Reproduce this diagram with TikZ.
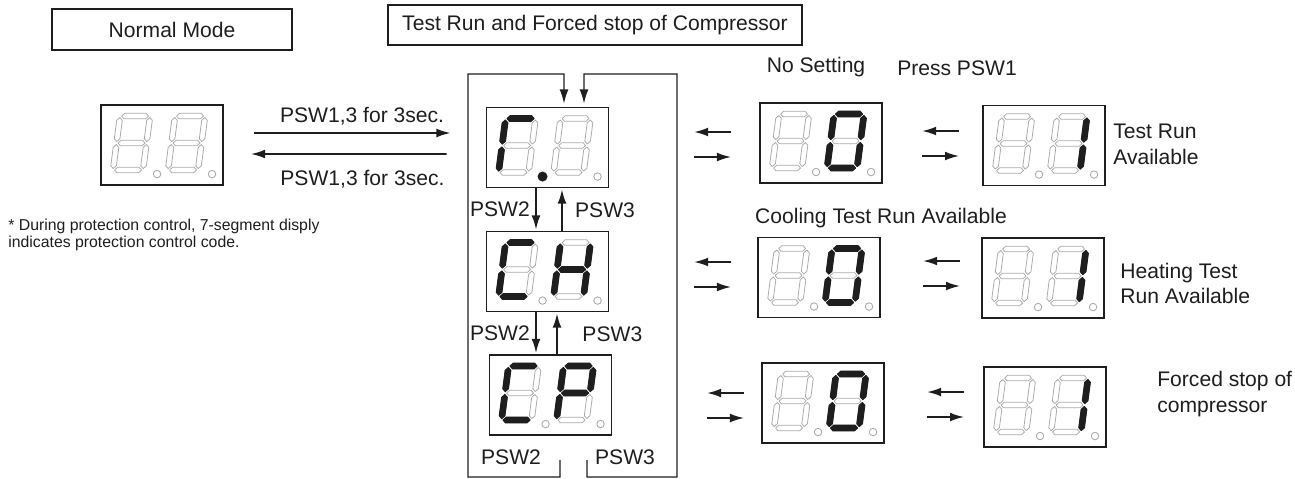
\documentclass[tikz,border=0pt]{standalone}
\usepackage{fontspec}
\setmainfont{Liberation Sans}
\usepackage{tikz}
\usetikzlibrary{arrows.meta,positioning,calc}
\definecolor{ink}{HTML}{1E1E1E}
\definecolor{segdim}{HTML}{ABABAB}
\tikzset{
  modebox/.style={draw=ink,line width=0.8pt,inner sep=0pt,font=\fontsize{12}{14}\selectfont,text=ink},
  dispbox/.style={draw=ink,line width=1.1pt,minimum width=2.44cm,minimum height=1.6cm,inner sep=0pt},
  segoff/.style={draw=segdim,line width=0.45pt,fill=white,line join=round},
  segon/.style={draw=ink,fill=ink,line width=0.6pt,line join=round},
  dpoff/.style={draw=segdim,line width=0.5pt,radius=0.075cm},
  dpon/.style={fill=ink,radius=0.1cm},
  swarrow/.style={-{Latex[length=8pt,width=5pt]},line width=1pt,draw=ink},
  looparrow/.style={-{Latex[length=8pt,width=5pt]},line width=0.75pt,draw=ink},
  lbl/.style={font=\fontsize{12}{14.5}\selectfont,text=ink,inner sep=0pt}
}
% pointed segments, horizontal and vertical
\newcommand\hseg[3]{(#1,#3) -- (#1+2.8,#3-2.8) -- (#2-2.8,#3-2.8) -- (#2,#3) -- (#2-2.8,#3+2.8) -- (#1+2.8,#3+2.8) -- cycle}
\newcommand\vseg[3]{(#1,#2) -- (#1+2.8,#2+2.8) -- (#1+2.8,#3-2.8) -- (#1,#3) -- (#1-2.8,#3-2.8) -- (#1-2.8,#2+2.8) -- cycle}
% one digit: segments a..g, origin at lower left, y down
\newcommand\dsega{\hseg{1.5}{28.5}{-54}}
\newcommand\dsegb{\vseg{30}{-52.5}{-28.5}}
\newcommand\dsegc{\vseg{30}{-25.5}{-1.5}}
\newcommand\dsegd{\hseg{1.5}{28.5}{0}}
\newcommand\dsege{\vseg{0}{-25.5}{-1.5}}
\newcommand\dsegf{\vseg{0}{-52.5}{-28.5}}
\newcommand\dsegg{\hseg{1.5}{28.5}{-27}}
\newcommand\dseg{}
\newcommand\segdigit[3]{%
  \begin{scope}[shift={(#1,#2)},xslant=0.13]
    \foreach \s in {a,b,c,d,e,f,g} \draw[segoff] \csname dseg\s\endcsname;
    \foreach \s in {#3} \draw[segon] \csname dseg\s\endcsname;
  \end{scope}}
% display box with two digits and two points
\newcommand\segdisplay[6]{%
  \node[dispbox] (#1) at (#2) {};
  \begin{scope}[shift={(#1.north west)}]
    \segdigit{13}{66}{#3}
    \segdigit{68}{66}{#4}
    \path[#5] (57,70) circle;
    \path[#6] (112,70) circle;
  \end{scope}}
% pair of short arrows left of a display
\newcommand\swpair[3]{%
  \draw[swarrow] ($(#1.west)+(#2,#3)$) -- ++(-37,0);
  \draw[swarrow] ($(#1.west)+(#2-37,#3+25)$) -- ++(37,0);}

\begin{document}
\begin{tikzpicture}[x=0.02cm,y=-0.02cm]
\useasboundingbox (0,0) rectangle (1295,478);
\node[modebox,minimum width=4.8cm,minimum height=0.82cm] (normal) at (172,29.5) {Normal Mode};
\node[modebox,minimum width=8.28cm,minimum height=0.8cm] (testrun) at (595,25) {Test Run and Forced stop of Compressor};

% displays
\segdisplay{nrm}{162,145}{}{}{dpoff}{dpoff}
\segdisplay{tr}{547.5,147.5}{a,e,f}{}{dpon}{dpoff}
\segdisplay{ch}{547.5,271.5}{a,d,e,f}{b,c,e,f,g}{dpoff}{dpoff}
\segdisplay{cp}{550.5,395}{a,d,e,f}{a,b,e,f,g}{dpoff}{dpoff}
\segdisplay{tzero}{821,143}{}{a,b,c,d,e,f}{dpoff}{dpoff}
\segdisplay{tone}{1044,145.5}{}{b,c}{dpoff}{dpoff}
\segdisplay{hzero}{819,277.5}{}{a,b,c,d,e,f}{dpoff}{dpoff}
\segdisplay{hone}{1043,278}{}{b,c}{dpoff}{dpoff}
\segdisplay{fzero}{823,403}{}{a,b,c,d,e,f}{dpoff}{dpoff}
\segdisplay{fone}{1045,407}{}{b,c}{dpoff}{dpoff}

% normal mode <-> test run
\draw[swarrow] ($(nrm.east)+(30,-12)$) -- ($(tr.west)+(-35,-14.5)$)
  node[lbl,pos=0.55,above=4pt] {PSW1,3 for 3sec.};
\draw[swarrow] ($(tr.west)+(-39,6.5)$) -- ($(nrm.east)+(27,9)$)
  node[lbl,pos=0.43,below=9pt] {PSW1,3 for 3sec.};

% mode steps
\draw[swarrow] ($(tr.south)+(-11.5,0)$) -- ($(ch.north)+(-11.5,-1)$) node[lbl,midway,left=3pt] {PSW2};
\draw[swarrow] ($(ch.north)+(14.5,0)$) -- ($(tr.south)+(14.5,1)$) node[lbl,midway,right=7pt] {PSW3};
\draw[swarrow] ($(ch.south)+(-11.5,0)$) -- ($(cp.north)+(-14.5,-1)$) node[lbl,midway,left=3pt] {PSW2};
\draw[swarrow] ($(cp.north)+(6.5,0)$) -- ($(ch.south)+(9.5,1)$) node[lbl,midway,right=14pt] {PSW3};

% way back to the top
\coordinate (lpin) at (560,460);
\coordinate (rpin) at (587,460);
\draw[looparrow] (lpin) |- (468,477) |- (564,74) -- ($(tr.north)+(16.5,-3)$);
\draw[looparrow] (rpin) |- (677,477) |- (584,74) -- ($(tr.north)+(36.5,-3)$);
\node[lbl] (psbl) at (511,457) {PSW2};
\node[lbl] (psbr) at (625,457) {PSW3};

% settings
\swpair{tzero}{-28}{-11}
\swpair{tone}{-23}{-14.5}
\swpair{hzero}{-26}{-15.5}
\swpair{hone}{-21}{-17}
\swpair{fzero}{-17}{-10}
\swpair{fone}{-19}{-15}

\node[lbl] (noset) at (816,67) {No Setting};
\node[lbl] (press) at (957,68) {Press PSW1};
\node[lbl,align=left,anchor=west] (travail) at (1113,144.5) {Test Run\\Available};
\node[lbl] (cool) at (881,218) {Cooling Test Run Available};
\node[lbl,align=left,anchor=west] (heat) at (1120,283.5) {Heating Test\\Run Available};
\node[lbl,align=left,anchor=west] (forced) at (1157,394) {Forced stop of\\compressor};
\node[lbl,font=\fontsize{9}{9.3}\selectfont,align=left,anchor=west] (note) at (8,235)
  {* During protection control, 7-segment disply\\indicates protection control code.};
\end{tikzpicture}
\end{document}
